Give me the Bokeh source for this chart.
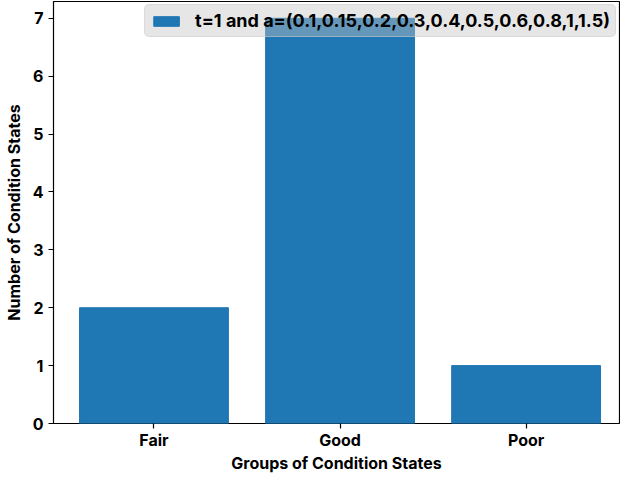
from bokeh.plotting import figure
from bokeh.models import Range1d, Legend, LegendItem, ColumnDataSource
from bokeh.embed import file_html
from bokeh.resources import INLINE

categories = ["Fair", "Good", "Poor"]
counts = [2, 7, 1]
legend_label = "t=1 and a=(0.1,0.15,0.2,0.3,0.4,0.5,0.6,0.8,1,1.5)"
y_ticks = [0, 1, 2, 3, 4, 5, 6, 7]
x_title = "Groups of Condition States"
y_title = "Number of Condition States"

FONT = "Inter"
xs = list(range(len(categories)))
src = ColumnDataSource(dict(x=xs, top=counts))

p = figure(width=620, height=475, output_backend="svg", toolbar_location=None,
           x_range=Range1d(-0.54, 2.502), y_range=Range1d(0, 7.29),
           min_border_left=51, min_border_right=1, min_border_top=1, min_border_bottom=46)
p.background_fill_color = "white"
p.border_fill_color = "white"
p.outline_line_color = "black"
p.outline_line_width = 1.2
p.grid.visible = False

r = p.vbar(x="x", top="top", width=0.8, bottom=0, source=src, color="#1f77b4")

p.xaxis.ticker = xs
p.xaxis.major_label_overrides = {i: c for i, c in enumerate(categories)}
p.yaxis.ticker = y_ticks
for ax in (p.xaxis[0], p.yaxis[0]):
    ax.major_label_text_font = FONT
    ax.major_label_text_font_style = "bold"
    ax.major_label_text_font_size = "16px"
    ax.major_label_text_color = "black"
    ax.axis_label_text_font = FONT
    ax.axis_label_text_font_style = "bold"
    ax.axis_label_text_font_size = "16px"
    ax.axis_label_text_color = "black"
    ax.minor_tick_line_color = None
    ax.major_tick_out = 5
    ax.major_tick_in = 0
    ax.axis_line_color = None
    ax.major_tick_line_color = "black"
    ax.major_tick_line_width = 1.2
p.xaxis.axis_label = x_title
p.yaxis.axis_label = y_title
p.xaxis.major_label_standoff = 1
p.xaxis.axis_label_standoff = 0
p.yaxis.major_label_standoff = 5
p.yaxis.axis_label_standoff = 6

legend = Legend(items=[LegendItem(label=legend_label, renderers=[r])],
                location="top_right", margin=3,
                label_text_font=FONT, label_text_font_style="bold",
                label_text_font_size="18px", label_text_color="black",
                glyph_width=32, glyph_height=12,
                background_fill_color="#c4c4c4", background_fill_alpha=0.42,
                border_line_color="#cccccc", border_line_width=1,
                border_radius=5, padding=5, spacing=0, label_standoff=13)
p.add_layout(legend)

open("out.html", "w").write(file_html(p, INLINE))
